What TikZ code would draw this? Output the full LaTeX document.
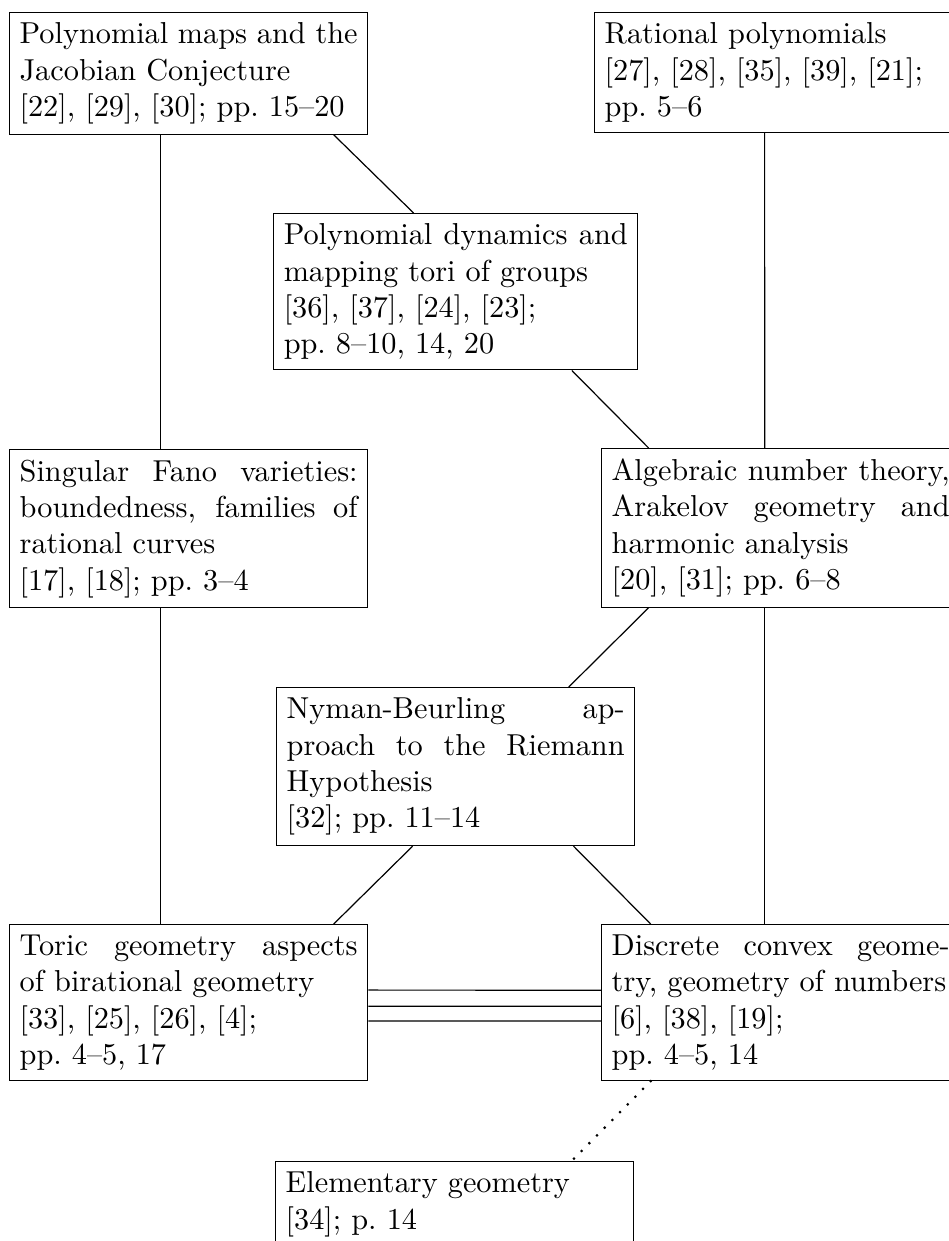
\documentclass[tikz,border=0pt]{standalone}
\usepackage{tikz}

\begin{document}
\begin{tikzpicture}[box/.style={draw,text width=3.92cm,align=justify,anchor=north west}]
  \useasboundingbox (0,0) rectangle (11.0,-14.394);

  \node[box] (jac) at (0.104,-0.139) {Polynomial maps and the Jacobian Conjecture\\ {}[22], [29], [30]; pp.~15--20};
  \node[box] (rat) at (6.890,-0.139) {Rational polynomials\\ {}[27], [28], [35], [39], [21];\\ pp.~5--6};
  \node[box,text width=3.99cm] (dyn) at (3.167,-2.471) {Polynomial dynamics and mapping tori of groups\\ {}[36], [37], [24], [23];\\ pp.~8--10, 14, 20};
  \node[box] (fano) at (0.104,-5.208) {Singular Fano varieties: boundedness, families of rational curves\\ {}[17], [18]; pp.~3--4};
  \node[box] (arak) at (6.971,-5.196) {Algebraic number theory, Arakelov geometry and harmonic analysis\\ {}[20], [31]; pp.~6--8};
  \node[box] (nyman) at (3.201,-7.969) {Nyman-Beurling approach to the Riemann Hypothesis\\ {}[32]; pp.~11--14};
  \node[box] (toric) at (0.104,-10.718) {Toric geometry aspects\linebreak of birational geometry\\ {}[33], [25], [26], [4];\\ pp.~4--5, 17};
  \node[box] (discr) at (6.971,-10.718) {Discrete convex geometry, geometry of numbers\\ {}[6], [38], [19];\\ pp.~4--5, 14};
  \node[box] (elem) at (3.190,-13.466) {Elementary geometry\\ {}[34]; p.~14};

  \draw ([xshift=-9.24pt]jac.south) -- ([xshift=-9.24pt]fano.north);
  \draw ([xshift=47.85pt]jac.south) -- ([xshift=-13.9pt]dyn.north);
  \draw ([xshift=-3pt]rat.south) -- ([xshift=-5.3pt]arak.north);
  \draw ([xshift=38.3pt]dyn.south) -- ([xshift=-43.6pt]arak.north);
  \draw ([xshift=-43.6pt]arak.south) -- ([xshift=37.3pt]nyman.north);
  \draw ([xshift=-9.24pt]fano.south) -- ([xshift=-9.24pt]toric.north);
  \draw ([xshift=-5.3pt]arak.south) -- ([xshift=-5.3pt]discr.north);
  \draw ([xshift=-14.2pt]nyman.south) -- ([xshift=47.85pt]toric.north);
  \draw ([xshift=38.9pt]nyman.south) -- ([xshift=-42.9pt]discr.north);

  \draw ([yshift=4.1pt]toric.east) -- ([yshift=4.1pt]discr.west);
  \draw ([yshift=-1.2pt]toric.east) -- ([yshift=-1.2pt]discr.west);
  \draw ([yshift=-6.1pt]toric.east) -- ([yshift=-6.1pt]discr.west);

  \draw[line width=1pt,line cap=round,dash pattern=on 0pt off 3.6pt] ([xshift=-42.9pt]discr.south) -- ([xshift=38.6pt]elem.north);
\end{tikzpicture}
\end{document}
